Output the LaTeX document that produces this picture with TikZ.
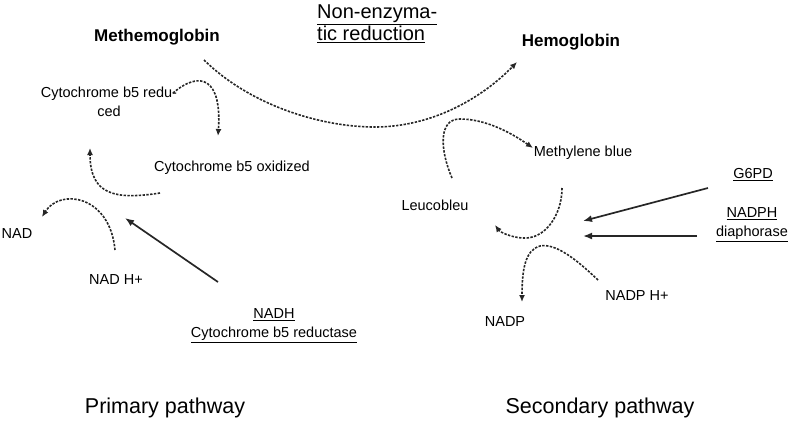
\documentclass[tikz,border=0pt]{standalone}
\usepackage{fontspec}
\setmainfont{Liberation Sans}
\usetikzlibrary{arrows.meta}

\begin{document}
\begin{tikzpicture}[
        x=1pt, y=-1pt,
        molecule/.style={font=\fontsize{14.5}{19}\selectfont, inner sep=0pt, align=center},
        heme/.style={font=\bfseries\fontsize{17}{20}\selectfont, inner sep=0pt},
        pathway/.style={font=\fontsize{21.5}{24}\selectfont, inner sep=0pt},
        reaction/.style={draw=black!85, line width=1.6pt, dash pattern=on 2.4pt off 1.4pt, -{Latex[length=7pt,width=6pt]}},
        catalysis/.style={draw=black!85, line width=1.7pt, -{Latex[length=9pt,width=7pt]}}
    ]
        \useasboundingbox (0,0) rectangle (797,424);

        % Top: methemoglobin to hemoglobin
        \node[heme] (methb) at (157,37) {Methemoglobin};
        \node[heme] (hb) at (571,42) {Hemoglobin};
        \node[anchor=west, inner sep=0pt, align=left, font=\fontsize{20}{22}\selectfont] (nonenz) at (317,24) {\underline{Non-enzyma-}\\\underline{tic reduction}};
        \draw[reaction] ([shift={(47,23)}]methb.center) .. controls (250,105) and (320,127) .. (375,127)
            .. controls (430,127) and (480,100) .. ([shift={(-54,20)}]hb.center);

        % Primary pathway
        \node[molecule] (cytred) at (109,102) {Cytochrome b5 redu-\\ced};
        \node[molecule] (cytox) at (232,168) {Cytochrome b5 oxidized};
        \node[molecule] (nad) at (17,234) {NAD};
        \node[molecule] (nadh) at (116,280) {NAD H+};
        \node[molecule] (enz1) at (274,326) {\underline{NADH}\\\underline{Cytochrome b5 reductase}};
        \draw[reaction] ([shift={(64,-9)}]cytred.center) .. controls (200,70) and (222,78) .. ([shift={(-14,-32)}]cytox.center);
        \draw[reaction] ([shift={(-72,25)}]cytox.center) .. controls (115,200) and (90,195) .. ([shift={(-19,46)}]cytred.center);
        \draw[reaction] ([shift={(-1,-30)}]nadh.center) .. controls (110,195) and (60,188) .. ([shift={(25,-17)}]nad.center);
        \draw[catalysis] ([shift={(-56,-44)}]enz1.center) -- ([shift={(9,-62)}]nadh.center);

        % Secondary pathway
        \node[molecule] (mb) at (583,153) {Methylene blue};
        \node[molecule] (leuco) at (435,205) {Leucobleu};
        \node[molecule] (g6pd) at (753,175) {\underline{G6PD}};
        \node[molecule] (diaph) at (752,225) {\underline{NADPH}\\\underline{diaphorase}};
        \node[molecule] (nadph) at (637,296) {NADP H+};
        \node[molecule] (nadp) at (505,322) {NADP};
        \draw[reaction] ([shift={(17,-27)}]leuco.center) .. controls (440,150) and (438,119) .. (460,119)
            .. controls (485,119) and (510,132) .. ([shift={(-50,-5)}]mb.center);
        \draw[reaction] ([shift={(-21,35)}]mb.center) .. controls (562,215) and (545,240) .. (522,238)
            .. controls (510,237) and (500,232) .. ([shift={(60,20)}]leuco.center);
        \draw[reaction] ([shift={(-39,-16)}]nadph.center) .. controls (575,258) and (555,243) .. (540,246)
            .. controls (525,250) and (522,270) .. ([shift={(17,-20)}]nadp.center);
        \draw[catalysis] ([shift={(-45,13)}]g6pd.center) -- ([shift={(-169,-4)}]diaph.center);
        \draw[catalysis] ([shift={(-55,11)}]diaph.center) -- ([shift={(-169,11)}]diaph.center);

        % Labels
        \node[pathway] (prim) at (165,408) {Primary pathway};
        \node[pathway] (sec) at (600,408) {Secondary pathway};

    \end{tikzpicture}
\end{document}
